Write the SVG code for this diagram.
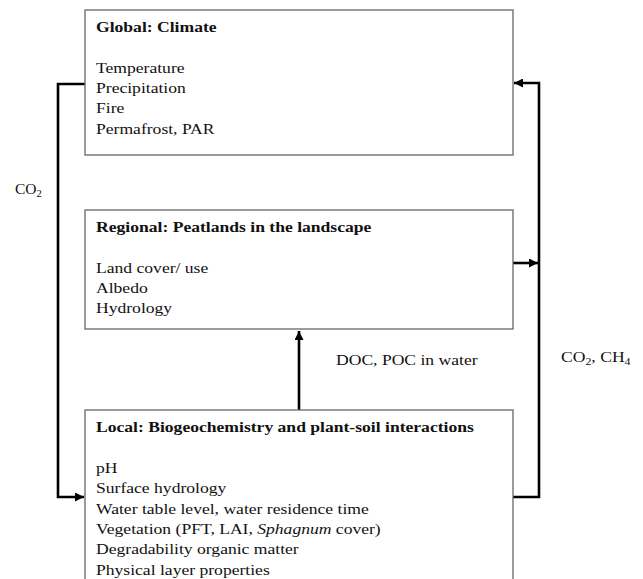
<svg xmlns="http://www.w3.org/2000/svg" width="643" height="579" viewBox="0 0 643 579">
<style>
.box{fill:#fff;stroke:#666;stroke-width:1.3}
.t{font-family:"Liberation Serif","Times New Roman",serif;font-size:15.5px;fill:#111}
.b{font-weight:bold}
.con{fill:none;stroke:#000;stroke-width:2.6}
</style>
<defs>
<marker id="ah" viewBox="0 0 10 10" refX="10" refY="5" markerWidth="9" markerHeight="9" markerUnits="userSpaceOnUse" orient="auto">
<path d="M0,0 L10,5 L0,10 z" fill="#000"/>
</marker>
</defs>
<rect width="643" height="579" fill="#fff"/>
<g id="connectors">
<path class="con" d="M85,84 H58 V497 H84" marker-end="url(#ah)"/>
<path class="con" d="M513,497 H539 V83 H514" marker-end="url(#ah)"/>
<path class="con" d="M513,263 H538" marker-end="url(#ah)"/>
<path class="con" d="M299,410 V331" marker-end="url(#ah)"/>
<text class="t" x="15" y="194">CO<tspan font-size="10.5" dy="3">2</tspan></text>
<text class="t" x="336" y="365" transform="translate(336,0) scale(1.135,1) translate(-336,0)">DOC, POC in water</text>
<text class="t" x="561" y="362" transform="translate(561,0) scale(1.135,1) translate(-561,0)">CO<tspan font-size="10.5" dy="3">2</tspan><tspan dy="-3">, CH</tspan><tspan font-size="10.5" dy="3">4</tspan></text>
</g>
<g id="global">
<rect class="box" x="85" y="10" width="428" height="145"/>
<g transform="translate(96,0) scale(1.135,1)">
<text class="t b" x="0" y="32">Global: Climate</text>
<text class="t" x="0" y="73">Temperature</text>
<text class="t" x="0" y="93.5">Precipitation</text>
<text class="t" x="0" y="113.5">Fire</text>
<text class="t" x="0" y="134">Permafrost, PAR</text>
</g>
</g>
<g id="regional">
<rect class="box" x="85" y="210" width="428" height="119"/>
<g transform="translate(96,0) scale(1.135,1)">
<text class="t b" x="0" y="232">Regional: Peatlands in the landscape</text>
<text class="t" x="0" y="273">Land cover/ use</text>
<text class="t" x="0" y="293">Albedo</text>
<text class="t" x="0" y="313">Hydrology</text>
</g>
</g>
<g id="local">
<rect class="box" x="85" y="410" width="428" height="190"/>
<g transform="translate(96,0) scale(1.135,1)">
<text class="t b" x="0" y="432">Local: Biogeochemistry and plant-soil interactions</text>
<text class="t" x="0" y="473">pH</text>
<text class="t" x="0" y="493">Surface hydrology</text>
<text class="t" x="0" y="514">Water table level, water residence time</text>
<text class="t" x="0" y="534">Vegetation (PFT, LAI, <tspan font-style="italic">Sphagnum</tspan> cover)</text>
<text class="t" x="0" y="554">Degradability organic matter</text>
<text class="t" x="0" y="575">Physical layer properties</text>
</g>
</g>
</svg>
